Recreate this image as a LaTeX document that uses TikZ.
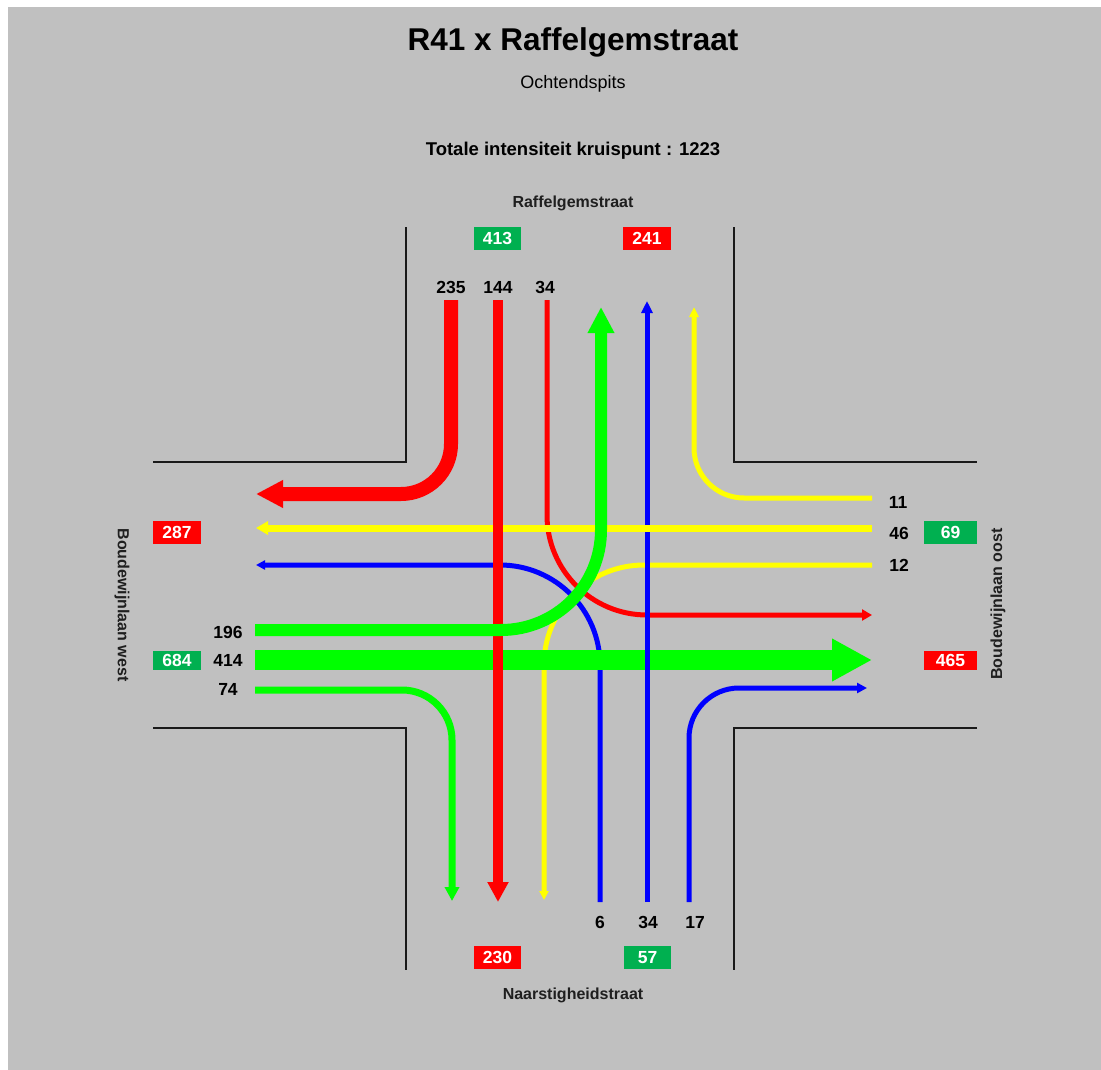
\documentclass[tikz,border=0pt]{standalone}
\usepackage{fontspec}
\setmainfont{Liberation Sans}
\usetikzlibrary{arrows.meta}
\definecolor{bg}{HTML}{C0C0C0}
\definecolor{fgreen}{HTML}{00FF00}
\definecolor{fred}{HTML}{FF0000}
\definecolor{fblue}{HTML}{0000FF}
\definecolor{fyellow}{HTML}{FFFF00}
\definecolor{boxgreen}{HTML}{00B050}
\definecolor{boxred}{HTML}{FF0000}
\begin{document}
\begin{tikzpicture}[x=1pt,y=-1pt,
  road/.style={line width=2pt, draw=black!90},
  num/.style={font=\fontsize{17.5}{20}\selectfont\bfseries, inner sep=0pt, text=black},
  street/.style={font=\fontsize{16}{19}\selectfont\bfseries, inner sep=0pt, text=black!88},
  cntbox/.style={minimum height=23pt, inner sep=0pt, font=\fontsize{17.5}{20}\selectfont\bfseries, text=white},
  cntgreen/.style={cntbox, fill=boxgreen},
  cntred/.style={cntbox, fill=boxred},
  flow/.style={line cap=butt, line join=round}]
\useasboundingbox (0,0) rectangle (1101,1070);
\fill[white] (0,0) rectangle (1101,1070);
\fill[bg] (8,7) rectangle (1101,1070);

% titles
\node[font=\fontsize{31.5}{36}\selectfont\bfseries, inner sep=0pt] (title) at (573,42) {R41 x Raffelgemstraat};
\node[font=\fontsize{18}{21}\selectfont, inner sep=0pt] (sub) at (573,84) {Ochtendspits};
\node[font=\fontsize{18.5}{21}\selectfont\bfseries, inner sep=0pt] (total) at (573,151) {Totale intensiteit kruispunt : 1223};

% street names
\node[street] (sN) at (573,203) {Raffelgemstraat};
\node[street] (sS) at (573,995) {Naarstigheidstraat};
\node[street, rotate=-90] (sW) at (122,605) {Boudewijnlaan west};
\node[street, rotate=90] (sE) at (998,604) {Boudewijnlaan oost};

% road edges
\draw[road] (406,227) -- (406,462) -- (153,462);
\draw[road] (734,227) -- (734,462) -- (977,462);
\draw[road] (153,728) -- (406,728) -- (406,970);
\draw[road] (977,728) -- (734,728) -- (734,970);

% named end points of the flows
\coordinate (r235s) at (451,300); \coordinate (r235e) at (256,494);
\coordinate (r144s) at (498,300); \coordinate (r144e) at (498,902);
\coordinate (r34s)  at (547,300); \coordinate (r34e)  at (872,615);
\coordinate (g196s) at (255,630); \coordinate (g196e) at (601,307);
\coordinate (g414s) at (255,660); \coordinate (g414e) at (872,660);
\coordinate (g74s)  at (255,690); \coordinate (g74e)  at (452,901);
\coordinate (y11s)  at (872,498); \coordinate (y11e)  at (694,307);
\coordinate (y46s)  at (872,528); \coordinate (y46e)  at (256,528);
\coordinate (y12s)  at (872,565); \coordinate (y12e)  at (544,900);
\coordinate (b6s)   at (600,902); \coordinate (b6e)   at (256,565);
\coordinate (b34s)  at (647,902); \coordinate (b34e)  at (647,301);
\coordinate (b17s)  at (689,902); \coordinate (b17e)  at (867,688);

% flows (drawing order matters for the crossings)
\draw[flow, fyellow, line width=5pt, rounded corners=100pt, -{Triangle[length=9pt,width=9pt]}] (y12s) -| (y12e);
\draw[flow, fblue, line width=5pt, rounded corners=100pt, -{Triangle[length=9pt,width=9pt]}] (b6s) |- (b6e);
\draw[flow, fred, line width=5pt, rounded corners=100pt, -{Triangle[length=10pt,width=11pt]}] (r34s) |- (r34e);
\draw[flow, fgreen, line width=20pt, -{Triangle[length=40pt,width=40pt]}] (g414s) -- (g414e);
\draw[flow, fblue, line width=5pt, -{Triangle[length=12pt,width=11pt]}] (b34s) -- (b34e);
\draw[flow, fyellow, line width=7pt, -{Triangle[length=12pt,width=13pt]}] (y46s) -- (y46e);
\draw[flow, fred, line width=10pt, -{Triangle[length=20pt,width=20pt]}] (r144s) -- (r144e);
\draw[flow, fgreen, line width=12pt, rounded corners=100pt, -{Triangle[length=26pt,width=25pt]}] (g196s) -| (g196e);

\draw[flow, fred, line width=14pt, rounded corners=50pt, -{Triangle[length=27pt,width=26pt]}] (r235s) |- (r235e);
\draw[flow, fyellow, line width=5pt, rounded corners=50pt, -{Triangle[length=10pt,width=9pt]}] (y11s) -| (y11e);
\draw[flow, fgreen, line width=7pt, rounded corners=50pt, -{Triangle[length=14pt,width=14pt]}] (g74s) -| (g74e);
\draw[flow, fblue, line width=5pt, rounded corners=50pt, -{Triangle[length=10pt,width=10pt]}] (b17s) |- (b17e);

% flow counts
\node[num] (n235) at (451,287) {235};
\node[num] (n144) at (498,287) {144};
\node[num] (n34t) at (545,287) {34};
\node[num] (n196) at (228,632) {196};
\node[num] (n414) at (228,660) {414};
\node[num] (n74)  at (228,689) {74};
\node[num] (n11)  at (898,502) {11};
\node[num] (n46)  at (899,533) {46};
\node[num] (n12)  at (899,565) {12};
\node[num] (n6)   at (600,922) {6};
\node[num] (n34b) at (648,922) {34};
\node[num] (n17)  at (695,922) {17};

% totals per arm
\node[cntgreen, minimum width=47pt] (tNin)  at (497.5,238.5) {413};
\node[cntred,   minimum width=48pt] (tNout) at (647,238.5) {241};
\node[cntred,   minimum width=48pt] (tWout) at (177,532.5) {287};
\node[cntgreen, minimum width=48pt, minimum height=19pt] (tWin) at (177,660) {684};
\node[cntgreen, minimum width=53pt] (tEin)  at (950.5,532.5) {69};
\node[cntred,   minimum width=53pt, minimum height=19pt] (tEout) at (950.5,660) {465};
\node[cntred,   minimum width=47pt] (tSout) at (497.5,957.5) {230};
\node[cntgreen, minimum width=47pt] (tSin)  at (647.5,957.5) {57};
\end{tikzpicture}
\end{document}
